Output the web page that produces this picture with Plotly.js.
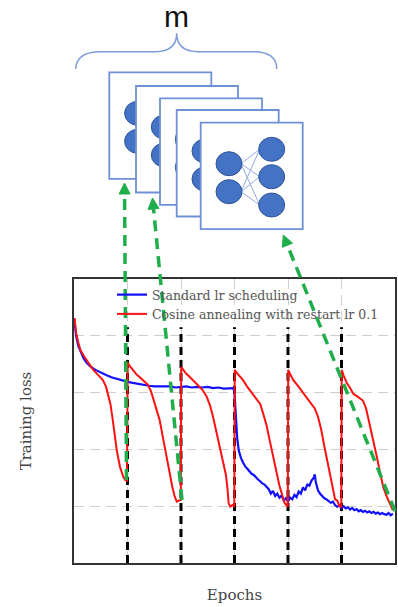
<!DOCTYPE html>
<html><head><meta charset="utf-8">
<script src="https://cdn.plot.ly/plotly-3.0.1.min.js"></script>
<style>html,body{margin:0;padding:0;background:#fff}#chart{width:398px;height:607px}</style>
</head><body><div id="chart"></div>
<script>
// ---- data (epochs, training loss) ----
const standardEpochs = [0,2,4,6,9,12,16,20,25,30,35,40,45,50,55,60,65,70,75,80,85,90,95,100,105,110,115,120,125,130,135,140,145,149,150,151,152.5,154,156,158,160,162,164,166,168,170,172,174,176,178,180,182,184,186,188,190,192,194,196,198,200,202,204,206,208,210,212,214,216,218,220,222,224,225,226,228,230,232,234,236,238,240,242,244,246,248,250,252,254,256,258,260,262,264,266,268,270,272,274,276,278,280,282,284,286,288,290,292,294,296,298];
const standardLoss = [4.31,4.0,3.82,3.72,3.6,3.52,3.45,3.40,3.35,3.31,3.27,3.24,3.21,3.19,3.17,3.15,3.13,3.12,3.11,3.11,3.10,3.11,3.09,3.10,3.11,3.09,3.10,3.09,3.10,3.08,3.09,3.07,3.08,3.08,3.0,2.6,2.2,1.98,1.85,1.77,1.70,1.66,1.62,1.57,1.55,1.50,1.47,1.44,1.40,1.38,1.33,1.30,1.22,1.27,1.18,1.22,1.15,1.19,1.10,1.14,1.08,1.15,1.12,1.20,1.16,1.26,1.22,1.33,1.28,1.38,1.36,1.45,1.50,1.56,1.42,1.28,1.22,1.18,1.14,1.12,1.09,1.06,1.08,1.02,0.99,1.01,0.97,1.00,0.96,0.98,0.94,0.97,0.93,0.95,0.91,0.93,0.90,0.92,0.89,0.91,0.88,0.90,0.87,0.89,0.86,0.88,0.86,0.85,0.88,0.84,0.87];
const cosineEpochs = [0.5,2,4,6,10,14,18,22,27,30,32,34,36,38,40,43,46,48,49.5,
  50.2,52,55,58,62,66,69,72,74,77,80,83,86,89,92,94,96,98,99.8,
  100.2,102,105,108,112,116,120,124,127,130,133,136,139,142,143.5,144.5,146,148,149.8,
  150.2,152,155,158,162,166,170,174,177,180,183,186,189,192,195,197,199.8,
  200.2,202,205,210,215,220,225,228,231,234,237,240,242,244,246,248,249.8,
  250.2,252,255,258,261,265,270,273,276,279,283,286,289,292,295,298];
const cosineLoss = [4.31,4.05,3.88,3.75,3.62,3.50,3.40,3.32,3.22,3.10,2.95,2.80,2.55,2.22,1.98,1.69,1.52,1.46,1.45,
  3.53,3.47,3.40,3.33,3.26,3.20,3.14,3.02,2.90,2.72,2.52,2.22,1.92,1.60,1.33,1.18,1.08,1.10,1.11,
  3.45,3.40,3.33,3.28,3.20,3.12,3.05,2.93,2.78,2.57,2.32,2.05,1.80,1.55,1.30,1.05,0.99,1.02,0.99,
  3.40,3.35,3.28,3.22,3.10,3.00,2.92,2.80,2.62,2.42,2.15,1.87,1.60,1.36,1.17,1.05,0.99,
  3.40,3.33,3.22,3.10,2.98,2.86,2.72,2.58,2.35,2.05,1.77,1.45,1.28,1.12,1.10,1.00,0.99,
  3.40,3.30,3.17,3.08,2.98,2.93,2.86,2.72,2.48,2.22,1.87,1.60,1.34,1.18,1.06,0.93];
const restartEpochs = [50,100,150,200,250];
const restartLineTop = 4.15;
const seriesNames = ['Standard lr scheduling','Cosine annealing with restart lr 0.1'];

// ---- geometry helpers (pixel -> paper) ----
const L=74,R=395,T=279,B=563;
const X = p => (p-L)/(R-L);
const Y = p => (B-p)/(B-T);
const pathFrom = pts => pts.map(s => (typeof s === 'string') ? s : X(s[0]).toFixed(5)+','+Y(s[1]).toFixed(5)).join(' ');

const shapes = [];
const boxStroke = '#6f8fd6', circFill = '#4472c4', circLine = '#2f5597';
const boxes = [[109.3,72.3],[136,86],[160,98.3],[176.7,110],[200.7,122.7]];
const bw = 102, bh = 106.5;
const leftC = [[28.3,41],[28.3,69]], rightC = [[71,26.6],[71,54],[71,82.3]];
const rx = 13, ry = 12;
boxes.forEach(([bx,by]) => {
  shapes.push({type:'rect',xref:'paper',yref:'paper',x0:X(bx),x1:X(bx+bw),y0:Y(by+bh),y1:Y(by),
    line:{color:boxStroke,width:1.8},fillcolor:'#ffffff',layer:'above'});
  leftC.forEach(([lx,ly]) => rightC.forEach(([qx,qy]) => {
    shapes.push({type:'line',xref:'paper',yref:'paper',x0:X(bx+lx+rx-1),y0:Y(by+ly),x1:X(bx+qx-rx+1),y1:Y(by+qy),
      line:{color:'#8faadc',width:1}});
  }));
  leftC.concat(rightC).forEach(([cx,cy]) => {
    shapes.push({type:'circle',xref:'paper',yref:'paper',x0:X(bx+cx-rx),x1:X(bx+cx+rx),y0:Y(by+cy+ry),y1:Y(by+cy-ry),
      fillcolor:circFill,line:{color:circLine,width:1}});
  });
});
// curly brace
shapes.push({type:'path',xref:'paper',yref:'paper',line:{color:'#7f9bd9',width:1.5},
  path:'M '+pathFrom([[75.7,69],'Q',[76.5,51.7],[100,51.7],'L',[155,51.7],'Q',[176.7,51.7],[176.7,33.3],'Q',[176.7,51.7],[198.4,51.7],'L',[253.4,51.7],'Q',[276.9,51.7],[276.7,69]])});

// green dashed arrows: snapshot point -> model box
const green = '#1fae4b';
const arrows = [[[126.5,480],[124.5,183]],[[182,500],[152.5,198]],[[395,511],[283.3,235]]];
arrows.forEach(([s,e]) => {
  const dx = e[0]-s[0], dy = e[1]-s[1], len = Math.hypot(dx,dy);
  const ux = dx/len, uy = dy/len, hl = 11, hw = 5.5;
  const bxp = e[0]-ux*hl, byp = e[1]-uy*hl;
  shapes.push({type:'line',xref:'paper',yref:'paper',x0:X(s[0]),y0:Y(s[1]),x1:X(bxp),y1:Y(byp),
    line:{color:green,width:3.5,dash:'11px,7px'}});
  shapes.push({type:'path',xref:'paper',yref:'paper',fillcolor:green,line:{color:green,width:1},
    path:'M '+pathFrom([[e[0],e[1]],'L',[bxp-uy*hw,byp+ux*hw],'L',[bxp+uy*hw,byp-ux*hw]])+' Z'});
});

// black dashed restart lines
const rx_ = [], ry_ = [];
restartEpochs.forEach(e => { rx_.push(e,e,null); ry_.push(0,restartLineTop,null); });

const traces = [
  {x:rx_,y:ry_,mode:'lines',line:{color:'#000',width:3,dash:'8px,5px'},showlegend:false,hoverinfo:'skip'},
  {x:standardEpochs,y:standardLoss,mode:'lines',name:seriesNames[0],line:{color:'#1010ff',width:2.2}},
  {x:cosineEpochs,y:cosineLoss,mode:'lines',name:seriesNames[1],line:{color:'#ff1010',width:2}}
];

const serif = 'DejaVu Serif, Liberation Serif, serif';
const axisBase = {showticklabels:false,ticks:'',showgrid:true,gridcolor:'#cfcfcf',griddash:'10px,6px',gridwidth:1,
  zeroline:false,showline:true,mirror:true,linecolor:'#333',linewidth:2,automargin:false};
const layout = {
  width:398,height:607,paper_bgcolor:'#fff',plot_bgcolor:'#fff',
  margin:{l:L,r:398-R,t:T,b:607-B},
  showlegend:true,
  legend:{x:X(112),y:Y(280),xanchor:'left',yanchor:'top',bgcolor:'rgba(0,0,0,0)',
    font:{family:serif,size:12.5,color:'#555'},tracegroupgap:0},
  xaxis:Object.assign({},axisBase,{range:[0,300],dtick:50,tick0:0,
    title:{text:'Epochs',font:{family:serif,size:15,color:'#444'},standoff:25}}),
  yaxis:Object.assign({},axisBase,{range:[0,5],dtick:1,tick0:0,
    title:{text:'Training loss',font:{family:serif,size:15,color:'#444'},standoff:37}}),
  shapes:shapes,
  annotations:[{xref:'paper',yref:'paper',x:X(176.7),y:Y(-2),text:'m',showarrow:false,
    font:{family:'Liberation Sans, Arial, sans-serif',size:30,color:'#111'},xanchor:'center',yanchor:'top'}]
};
Plotly.newPlot('chart',traces,layout,{displayModeBar:false,staticPlot:true});
</script></body></html>
